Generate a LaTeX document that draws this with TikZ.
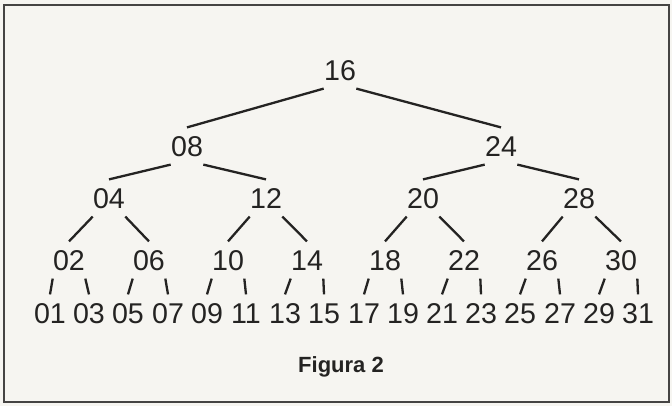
\documentclass[tikz,border=0pt]{standalone}
\usepackage{xcolor}
\usepackage{tikz}
\usepackage{fontspec}
\setmainfont{Liberation Sans}
\definecolor{paper}{HTML}{F6F5F1}
\definecolor{ink}{HTML}{242322}
\tikzset{
  num/.style={inner xsep=0pt, inner ysep=4pt, text height=10.2pt, text depth=0pt,
    text=ink, font=\fontsize{14.3}{16}\selectfont},
  branch/.style={draw=ink, line width=1.15pt}
}
\begin{document}
\begin{tikzpicture}[x=0.5pt, y=-0.5pt]
  % paper and frame
  \useasboundingbox (0,0) rectangle (672,406);
  \fill[paper] (0,0) rectangle (672,406);
  \draw[ink!85, line width=1.3pt] (4,5) rectangle (669,402);
  % root and first level
  \node[num] (n16) at (340,70) {16};
  \node[num] (n08) at (187,146) {08};
  \node[num] (n24) at (501,146) {24};
  % second level
  \node[num] (n04) at (109,198) {04};
  \node[num] (n12) at (266,198) {12};
  \node[num] (n20) at (423,198) {20};
  \node[num] (n28) at (579,198) {28};
  % third level
  \node[num] (n02) at (69,260) {02};
  \node[num] (n06) at (149,260) {06};
  \node[num] (n10) at (228,260) {10};
  \node[num] (n14) at (307,260) {14};
  \node[num] (n18) at (385,260) {18};
  \node[num] (n22) at (464,260) {22};
  \node[num] (n26) at (542,260) {26};
  \node[num] (n30) at (621,260) {30};
  % leaves
  \node[num] (n01) at (50,313) {01};
  \node[num] (n03) at (89,313) {03};
  \node[num] (n05) at (128,313) {05};
  \node[num] (n07) at (168,313) {07};
  \node[num] (n09) at (207,313) {09};
  \node[num] (n11) at (246,313) {11};
  \node[num] (n13) at (285,313) {13};
  \node[num] (n15) at (324,313) {15};
  \node[num] (n17) at (364,313) {17};
  \node[num] (n19) at (403,313) {19};
  \node[num] (n21) at (442,313) {21};
  \node[num] (n23) at (481,313) {23};
  \node[num] (n25) at (520,313) {25};
  \node[num] (n27) at (560,313) {27};
  \node[num] (n29) at (599,313) {29};
  \node[num] (n31) at (638,313) {31};
  % branches
  \draw[branch] (n16.south west) -- (n08.north);
  \draw[branch] (n16.south east) -- (n24.north);
  \draw[branch] (n08.south west) -- (n04.north);
  \draw[branch] (n08.south east) -- (n12.north);
  \draw[branch] (n24.south west) -- (n20.north);
  \draw[branch] (n24.south east) -- (n28.north);
  \draw[branch] (n04.south west) -- (n02.north);
  \draw[branch] (n04.south east) -- (n06.north);
  \draw[branch] (n12.south west) -- (n10.north);
  \draw[branch] (n12.south east) -- (n14.north);
  \draw[branch] (n20.south west) -- (n18.north);
  \draw[branch] (n20.south east) -- (n22.north);
  \draw[branch] (n28.south west) -- (n26.north);
  \draw[branch] (n28.south east) -- (n30.north);
  \draw[branch] (n02.south west) -- (n01.north);
  \draw[branch] (n02.south east) -- (n03.north);
  \draw[branch] (n06.south west) -- (n05.north);
  \draw[branch] (n06.south east) -- (n07.north);
  \draw[branch] (n10.south west) -- (n09.north);
  \draw[branch] (n10.south east) -- (n11.north);
  \draw[branch] (n14.south west) -- (n13.north);
  \draw[branch] (n14.south east) -- (n15.north);
  \draw[branch] (n18.south west) -- (n17.north);
  \draw[branch] (n18.south east) -- (n19.north);
  \draw[branch] (n22.south west) -- (n21.north);
  \draw[branch] (n22.south east) -- (n23.north);
  \draw[branch] (n26.south west) -- (n25.north);
  \draw[branch] (n26.south east) -- (n27.north);
  \draw[branch] (n30.south west) -- (n29.north);
  \draw[branch] (n30.south east) -- (n31.north);
  % caption
  \node[text=ink, font=\fontsize{11}{13}\selectfont\bfseries] (caption) at (341,367) {Figura 2};
\end{tikzpicture}
\end{document}
